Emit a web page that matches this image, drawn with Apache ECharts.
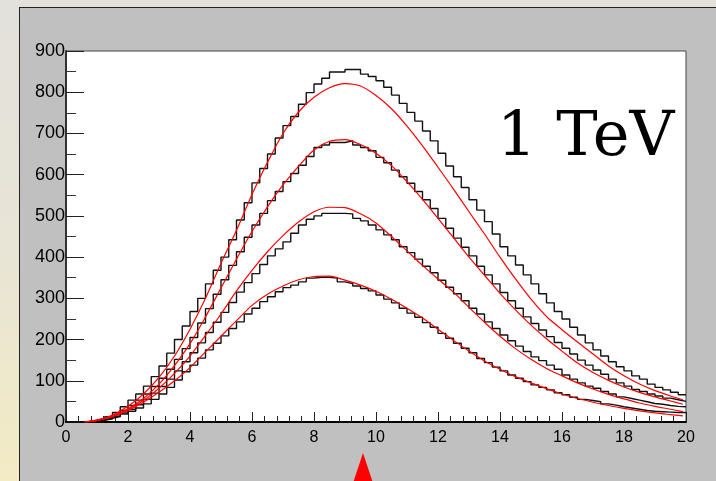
<!DOCTYPE html>
<html>
<head>
<meta charset="utf-8">
<script src="https://cdn.jsdelivr.net/npm/echarts@6/dist/echarts.min.js"></script>
<style>
  body { margin: 0; }
  #wrap { position: relative; width: 716px; height: 481px; overflow: hidden;
    background: linear-gradient(180deg, #e3e1dc 0%, #e8e4d6 50%, #f3ebc4 100%); }
  #panel { position: absolute; left: 19px; top: 7px; right: -2px; bottom: -2px;
    background: #c0c0c0; border-left: 1px solid #222; border-top: 1px solid #222; }
  #main { position: absolute; left: 0; top: 0; width: 716px; height: 481px; }
</style>
</head>
<body>
<div id="wrap">
  <div id="panel"></div>
  <div id="main"></div>
</div>
<script>
// histogram contents, 80 bins of width 0.25 from 0 to 20
const binWidth = 0.25
const histA = [
  0, 0, 1, 3, 7, 13, 23, 37, 53, 68, 87, 110, 136, 167, 200, 233,
  268, 300, 335, 368, 400, 442, 490, 532, 580, 615, 650, 689, 719, 741, 771, 799,
  820, 834, 849, 849, 855, 855, 844, 838, 828, 812, 793, 773, 751, 730, 706, 682,
  652, 621, 595, 569, 539, 514, 486, 456, 425, 403, 381, 357, 335, 311, 289, 268,
  250, 230, 211, 192, 175, 160, 146, 134, 124, 112, 104, 92, 84, 78, 72, 66
]
const histB = [
  0, 0, 1, 2, 5, 10, 18, 28, 40, 53, 68, 86, 106, 128, 152, 178,
  205, 240, 275, 310, 345, 380, 413, 448, 478, 506, 537, 559, 583, 603, 623, 644,
  666, 672, 678, 678, 682, 672, 666, 658, 642, 629, 611, 595, 579, 559, 539, 518,
  494, 470, 446, 424, 403, 378, 357, 335, 314, 294, 276, 255, 239, 223, 207, 193,
  179, 165, 150, 138, 126, 116, 104, 95, 87, 79, 74, 68, 63, 58, 54, 50
]
const histC = [
  0, 0, 1, 2, 4, 8, 14, 22, 31, 42, 55, 70, 86, 104, 124, 146,
  168, 192, 217, 242, 266, 290, 315, 338, 360, 382, 403, 420, 437, 458, 478, 492,
  500, 506, 506, 506, 505, 494, 488, 478, 466, 454, 442, 425, 411, 395, 378, 362,
  344, 327, 311, 294, 276, 262, 243, 227, 211, 197, 184, 171, 158, 149, 138, 128,
  114, 104, 95, 87, 82, 74, 68, 61, 57, 53, 49, 45, 43, 40, 38, 37
]
const histD = [
  0, 0, 1, 2, 5, 9, 13, 19, 26, 34, 44, 55, 68, 84, 102, 122,
  138, 155, 175, 191, 209, 227, 243, 262, 276, 292, 304, 316, 326, 332, 340, 349,
  351, 351, 349, 340, 336, 330, 324, 318, 308, 298, 289, 276, 264, 254, 241, 230,
  215, 203, 191, 179, 168, 154, 144, 133, 124, 114, 106, 98, 90, 84, 78, 71,
  66, 60, 55, 52, 49, 44, 41, 37, 34, 31, 28, 26, 25, 24, 23, 23
]

// fitted curves (red), sampled along x
const fitX = [
  0.6, 1, 1.5, 2, 2.5, 3, 3.5, 4, 4.5, 5, 5.5, 6, 6.5, 7, 7.5, 8, 8.5, 9, 9.5, 10,
  10.5, 11, 11.5, 12, 12.5, 13, 13.5, 14, 14.5, 15, 15.5, 16, 16.5, 17, 17.5, 18, 18.5, 19, 19.5, 19.9
]
const fitA = [
  0, 5, 17, 38, 68, 108, 160, 225, 300, 385, 465, 552, 630, 700, 752, 788, 811, 821, 815, 792,
  760, 718, 670, 618, 565, 510, 456, 400, 347, 298, 256, 224, 194, 165, 136, 112, 92, 76, 63, 54
]
const fitB = [
  0, 4, 15, 32, 57, 92, 137, 190, 255, 325, 395, 462, 522, 575, 620, 660, 681, 685, 673, 652,
  622, 583, 540, 494, 447, 400, 356, 312, 272, 235, 202, 172, 143, 120, 101, 85, 72, 61, 51, 43
]
const fitC = [
  0, 4, 14, 30, 52, 82, 118, 160, 210, 262, 318, 368, 413, 452, 485, 510, 521, 520, 505, 483,
  450, 415, 380, 347, 315, 278, 242, 208, 178, 152, 130, 112, 95, 80, 67, 56, 46, 38, 31, 25
]
const fitD = [
  0, 4, 13, 28, 48, 72, 100, 132, 170, 208, 246, 283, 310, 330, 345, 353, 354, 344, 332, 317,
  298, 276, 252, 225, 198, 172, 148, 128, 110, 95, 81, 68, 57, 48, 40, 33, 27, 22, 18, 15
]
const label = '1 TeV'

function histData(vals) {
  let d = vals.map((v, i) => [i * binWidth, v])
  d.push([vals.length * binWidth, vals[vals.length - 1]])
  return d
}
function fitData(vals) {
  return vals.map((v, i) => [fitX[i], v])
}
function histSeries(vals) {
  return {
    type: 'line', step: 'end', symbol: 'none', data: histData(vals),
    lineStyle: { color: '#111', width: 1.4 }, z: 3
  }
}
function fitSeries(vals) {
  return {
    type: 'line', smooth: 0.3, symbol: 'none', data: fitData(vals),
    lineStyle: { color: '#ff0000', width: 1.2 }, z: 4
  }
}

let myChart = echarts.init(document.getElementById('main'))
let option = {
  animation: false,
  grid: {
    left: 66, right: 30, top: 51, bottom: 59,
    show: true, backgroundColor: '#fff', borderColor: '#444', borderWidth: 1
  },
  xAxis: {
    type: 'value', min: 0, max: 20, interval: 2,
    axisLine: { show: true, onZero: false, lineStyle: { color: '#000', width: 2 } },
    axisTick: { show: true, inside: true, length: 10, lineStyle: { color: '#222' } },
    minorTick: { show: true, splitNumber: 5, length: 6, lineStyle: { color: '#222' } },
    splitLine: { show: false },
    axisLabel: { color: '#000', fontSize: 16, margin: 8, fontFamily: 'Liberation Sans' }
  },
  yAxis: {
    type: 'value', min: 0, max: 900, interval: 100,
    axisLine: { show: true, onZero: false, lineStyle: { color: '#333', width: 2 } },
    axisTick: { show: true, inside: true, length: 18, lineStyle: { color: '#222' } },
    minorTick: { show: true, splitNumber: 2, length: 10, lineStyle: { color: '#333' } },
    splitLine: { show: false },
    axisLabel: { color: '#000', fontSize: 18, margin: 1, fontFamily: 'Liberation Sans' }
  },
  graphic: [
    {
      type: 'text', x: 497, y: 139, z: 10,
      style: { text: label, font: '62px "DejaVu Serif"', fill: '#000', verticalAlign: 'middle' }
    },
    {
      type: 'polygon', z: 10,
      shape: { points: [[353, 483], [373, 483], [363, 453]] },
      style: { fill: '#ff0000' }
    }
  ],
  series: [
    histSeries(histA), histSeries(histB), histSeries(histC), histSeries(histD),
    fitSeries(fitA), fitSeries(fitB), fitSeries(fitC), fitSeries(fitD)
  ]
}
myChart.setOption(option)
window.addEventListener('resize', function() {
  myChart.resize()
})
</script>
</body>
</html>
